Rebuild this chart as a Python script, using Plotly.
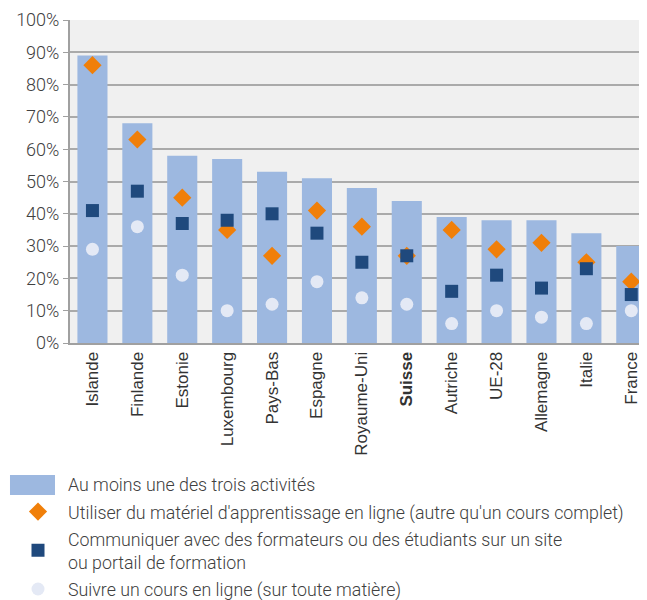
import plotly.graph_objs as go

# ---------- Daten ----------------------------------------------------------
pays = ["Islande", "Finlande", "Estonie", "Luxembourg", "Pays-Bas", "Espagne",
        "Royaume-Uni", "Suisse", "Autriche", "UE-28", "Allemagne", "Italie", "France"]
au_moins_une = [89, 68, 58, 57, 53, 51, 48, 44, 39, 38, 38, 34, 30]
materiel_en_ligne = [86, 63, 45, 35, 27, 41, 36, 27, 35, 29, 31, 25, 19]
communiquer = [41, 47, 37, 38, 40, 34, 25, 27, 16, 21, 17, 23, 15]
cours_en_ligne = [29, 36, 21, 10, 12, 19, 14, 12, 6, 10, 8, 6, 10]

y_ticks = list(range(0, 101, 10))
y_labels = [f"{v}%" for v in y_ticks]
x_labels = [f"<b>{p}</b>" if p == "Suisse" else p for p in pays]

txt = "#404040"
bar_col = "#9db8e0"

fig = go.Figure()
fig.add_trace(go.Bar(x=pays, y=au_moins_une, name="Au moins une des trois activités",
                     marker=dict(color=bar_col, line=dict(width=0)), width=0.67,
                     legendgroup="a"))
fig.add_trace(go.Scatter(x=pays, y=materiel_en_ligne, mode="markers",
                         name="Utiliser du matériel d'apprentissage en ligne (autre qu'un cours complet)",
                         marker=dict(symbol="diamond", size=14, color="#f07f09"),
                         legendgroup="b"))
fig.add_trace(go.Scatter(x=pays, y=communiquer, mode="markers",
                         name="Communiquer avec des formateurs ou des étudiants sur un site<br>ou portail de formation",
                         marker=dict(symbol="square", size=13, color="#1f497d"),
                         legendgroup="c"))
fig.add_trace(go.Scatter(x=pays, y=cours_en_ligne, mode="markers",
                         name="Suivre un cours en ligne (sur toute matière)",
                         marker=dict(symbol="circle", size=13, color="#e4e9f5"),
                         legendgroup="d"))

# grande pastille pour la légende des barres
fig.add_shape(type="rect", xref="paper", yref="paper",
              x0=-0.104, x1=-0.026, y0=-0.4706, y1=-0.4087,
              fillcolor=bar_col, line=dict(width=0), layer="above")

fig.update_layout(
    width=639,
    height=620,
    margin=dict(l=62, r=0, t=12, b=285),
    paper_bgcolor="white",
    plot_bgcolor="#f0f0f0",
    font=dict(family="Roboto", color=txt, size=15),
    showlegend=True,
    legend=dict(x=-0.1075, y=-0.382, xanchor="left", yanchor="top",
                font=dict(size=17.8, color=txt, family="Roboto", weight=300),
                bgcolor="rgba(0,0,0,0)", tracegroupgap=1, itemwidth=50),
    xaxis=dict(
        tickmode="array", tickvals=pays, ticktext=x_labels,
        tickangle=-90, range=[-0.5, 12.35],
        showline=True, linecolor="#a0a0a0", linewidth=2,
        showgrid=False, ticks="",
        tickfont=dict(size=17, color="#333333", family="Liberation Sans"),
    ),
    yaxis=dict(
        tickmode="array", tickvals=y_ticks, ticktext=y_labels,
        range=[0, 100], showline=True, linecolor="#a0a0a0", linewidth=2,
        showgrid=True, gridcolor="#aaaaaa", gridwidth=1.5,
        ticks="outside", ticklen=5, tickcolor="#a0a0a0",
        tickfont=dict(size=18, color=txt, family="Roboto", weight=300),
        zeroline=False,
    ),
)

fig.write_html("out.html")
